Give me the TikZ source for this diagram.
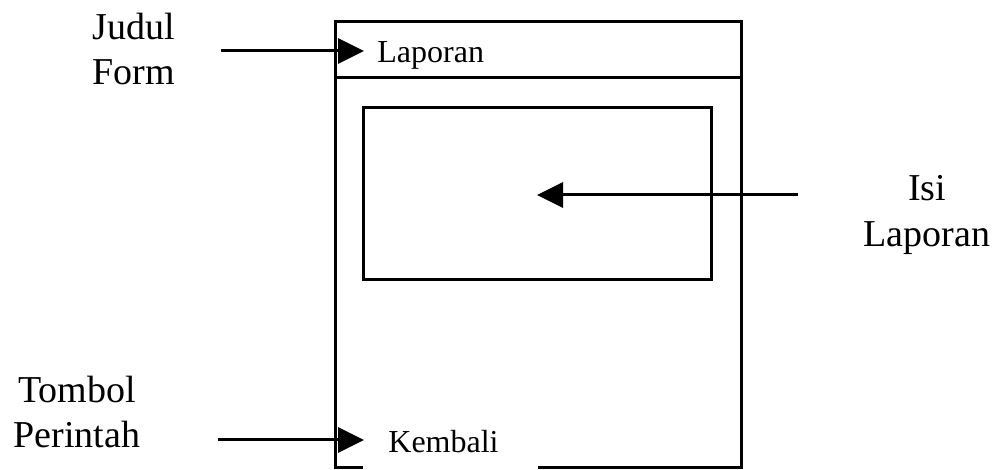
\documentclass[tikz,border=0pt]{standalone}
\usepackage{fontspec}
\setmainfont{Liberation Serif}
\usetikzlibrary{arrows.meta,positioning}
\definecolor{inkblack}{HTML}{000000}
\tikzset{
  frameline/.style={draw=inkblack, line width=1.5pt},
  callout/.style={font=\fontsize{19}{22.5}\selectfont, align=center, inner sep=0pt},
  formtext/.style={font=\fontsize{16}{19}\selectfont, inner sep=0pt, anchor=base west},
  pointer/.style={-{Triangle[length=13pt, width=12.5pt]}, line width=1.5pt, color=inkblack},
}

\begin{document}
\begin{tikzpicture}[x=0.5pt,y=0.5pt]
  \useasboundingbox (0,0) rectangle (996,470);
  % form outline, bottom edge left open around the button
  \draw[frameline] (363,2) -- (335,2) -- (335,448) -- (741,448) -- (741,2) -- (538,2);
  \draw[frameline] (335,392) -- (741,392);
  % content area
  \draw[frameline] (363,190) rectangle (711,362);

  \node[formtext] (title) at (377,407) {Laporan};
  \node[formtext] (button) at (388,17) {Kembali};

  % side labels
  \node[callout] (judul) at (134,421) {Judul\\Form};
  \node[callout, font=\fontsize{19}{23}\selectfont] (isi) at (927,255) {Isi\\Laporan};
  \node[callout] (tombol) at (77,58) {Tombol\\Perintah};

  \coordinate (judulstart) at (221,419);
  \coordinate (judulend) at (364,419);
  \coordinate (isistart) at (798,275);
  \coordinate (isiend) at (537,275);
  \coordinate (tombolstart) at (218,30);
  \coordinate (tombolend) at (364,30);

  \draw[pointer] (judulstart) -- (judulend);
  \draw[pointer] (isistart) -- (isiend);
  \draw[pointer] (tombolstart) -- (tombolend);
\end{tikzpicture}
\end{document}
